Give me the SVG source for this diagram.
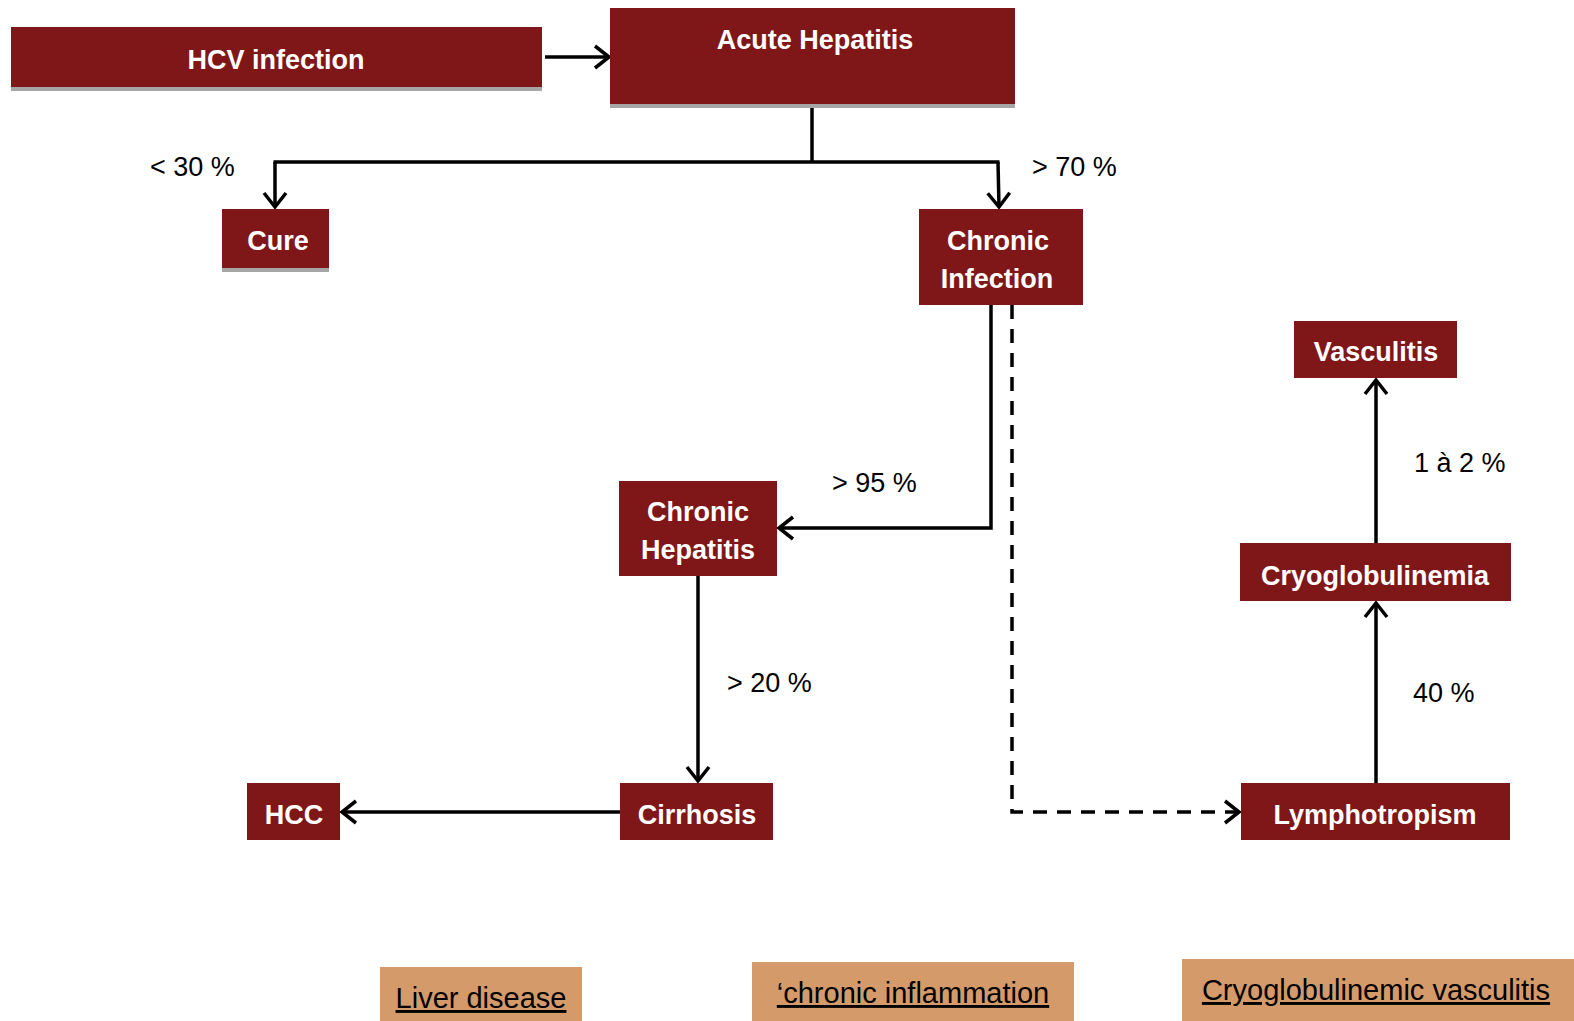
<svg xmlns="http://www.w3.org/2000/svg" width="1574" height="1021" viewBox="0 0 1574 1021">
<defs>
<style>
.box{fill:#7F1718}
.sh{fill:#A6A6A6}
.tan{fill:#D49A6A}
.nt{font-family:"Liberation Sans",Arial,sans-serif;font-weight:bold;font-size:27px;fill:#fff;text-anchor:middle}
.lb{font-family:"Liberation Sans",Arial,sans-serif;font-size:27px;fill:#000}
.bt{font-family:"Liberation Sans",Arial,sans-serif;font-size:29px;fill:#000;text-anchor:middle;text-decoration:underline}
.ln{fill:none;stroke:#000;stroke-width:3.5}
.ds{stroke-dasharray:14 10}
</style>
<marker id="ah" markerUnits="userSpaceOnUse" markerWidth="28" markerHeight="28" refX="17" refY="13" orient="auto">
<path d="M3,2 L17,13 L3,24" fill="none" stroke="#000" stroke-width="3.5"/>
</marker>
</defs>
<rect width="1574" height="1021" fill="#fff"/>
<g id="connectors">
<path class="ln" d="M545,57 L609,57" marker-end="url(#ah)"/>
<path class="ln" d="M812,104 L812,162"/>
<path class="ln" d="M273.5,162 L999.5,162"/>
<path class="ln" d="M275,162 L275,207" marker-end="url(#ah)"/>
<path class="ln" d="M998,162 L999,207" marker-end="url(#ah)"/>
<path class="ln" d="M991,305 L991,528 L779,528" marker-end="url(#ah)"/>
<path class="ln ds" d="M1012,305 L1012,812 L1239,812" marker-end="url(#ah)"/>
<path class="ln" d="M698,576 L698,781" marker-end="url(#ah)"/>
<path class="ln" d="M620,812 L342,812" marker-end="url(#ah)"/>
<path class="ln" d="M1376,783 L1376,603" marker-end="url(#ah)"/>
<path class="ln" d="M1376,543 L1376,380" marker-end="url(#ah)"/>
</g>
<g id="labels">
<text class="lb" x="150" y="176">&lt; 30 %</text>
<text class="lb" x="1032" y="176">&gt; 70 %</text>
<text class="lb" x="832" y="492">&gt; 95 %</text>
<text class="lb" x="727" y="692">&gt; 20 %</text>
<text class="lb" x="1413" y="702">40 %</text>
<text class="lb" x="1414" y="472">1 à 2 %</text>
</g>
<g id="hcv"><rect class="sh" x="11" y="31" width="531" height="60"/><rect class="box" x="11" y="27" width="531" height="60"/><text class="nt" x="276" y="69">HCV infection</text></g>
<g id="acute"><rect class="sh" x="610" y="12" width="405" height="96"/><rect class="box" x="610" y="8" width="405" height="96"/><text class="nt" x="815" y="49">Acute Hepatitis</text></g>
<g id="cure"><rect class="sh" x="222" y="213" width="107" height="59"/><rect class="box" x="222" y="209" width="107" height="59"/><text class="nt" x="278" y="250">Cure</text></g>
<g id="chronic-infection"><rect class="box" x="919" y="209" width="164" height="96"/><text class="nt" x="998" y="250">Chronic</text><text class="nt" x="997" y="288">Infection</text></g>
<g id="chronic-hepatitis"><rect class="box" x="619" y="481" width="158" height="95"/><text class="nt" x="698" y="521">Chronic</text><text class="nt" x="698" y="559">Hepatitis</text></g>
<g id="cirrhosis"><rect class="box" x="620" y="783" width="153" height="57"/><text class="nt" x="697" y="824">Cirrhosis</text></g>
<g id="hcc"><rect class="box" x="247" y="783" width="93" height="57"/><text class="nt" x="294" y="824">HCC</text></g>
<g id="lymphotropism"><rect class="box" x="1241" y="783" width="269" height="57"/><text class="nt" x="1375" y="824">Lymphotropism</text></g>
<g id="cryoglobulinemia"><rect class="box" x="1240" y="543" width="271" height="58"/><text class="nt" x="1375" y="585">Cryoglobulinemia</text></g>
<g id="vasculitis"><rect class="box" x="1294" y="321" width="163" height="57"/><text class="nt" x="1376" y="361">Vasculitis</text></g>
<g id="liver-disease"><rect class="tan" x="380" y="967" width="202" height="54"/><text class="bt" x="481" y="1008">Liver disease</text></g>
<g id="chronic-inflammation"><rect class="tan" x="752" y="962" width="322" height="59"/><text class="bt" x="913" y="1003">‘chronic inflammation</text></g>
<g id="cryo-vasculitis"><rect class="tan" x="1182" y="959" width="392" height="62"/><text class="bt" x="1376" y="1000">Cryoglobulinemic vasculitis</text></g>
</svg>
